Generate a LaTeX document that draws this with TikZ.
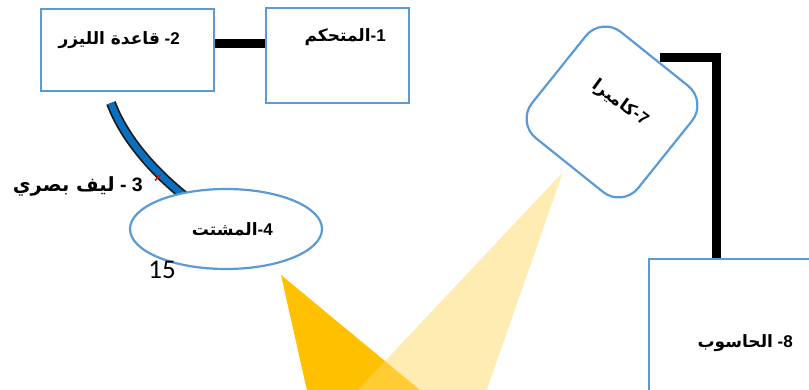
\documentclass[tikz,border=0pt]{standalone}
\usepackage{fontspec}
\setmainfont{Liberation Sans}
\newfontfamily\arfont[Script=Arabic]{DejaVu Sans}
\newfontfamily\calfont{Carlito}
\TeXXeTstate=1
\usetikzlibrary{shapes.geometric}
\definecolor{boxblue}{HTML}{5B9BD5}
\definecolor{ydark}{HTML}{FFC000}
\definecolor{ylight}{HTML}{FFD966}
\definecolor{fibblue}{HTML}{0A6FBF}
\definecolor{fibdark}{HTML}{1A1A1A}
\newcommand\artxt[1]{{\arfont\beginR #1\endR}}
\begin{document}
\begin{tikzpicture}[x=1pt,y=-1pt,
  box/.style={draw=boxblue, line width=2.2pt, fill=white, inner sep=0pt},
  lbl/.style={inner sep=0pt, font=\bfseries\fontsize{17}{20}\selectfont},
  conn/.style={line width=9pt, draw=black}]
\useasboundingbox (0,0) rectangle (809,390);
\clip (0,0) rectangle (809,390);
% light beams
\fill[ydark] (281,275) -- (308,395) -- (426,395) -- cycle;
\fill[ylight, fill opacity=0.5] (563,172) -- (353,395) -- (485,395) -- cycle;
% optical fibre
\draw[fibdark, line width=10pt] (111,103) .. controls (123,135) and (150,170) .. (192,202);
\draw[fibblue, line width=6.5pt] (111,103) .. controls (123,135) and (150,170) .. (192,202);
\draw[red, line width=1.6pt] (155,180.5) -- (160.5,175);
% boxes
\node[box, minimum width=173pt, minimum height=82pt] (b2) at (127.5,50) {};
\node[box, minimum width=143pt, minimum height=95pt] (b1) at (337.5,55.5) {};
\draw[conn] ([yshift=6pt]b2.east) -- ([yshift=6pt]b2.east -| b1.west);
\node[lbl, anchor=east] (t2) at (180,40) {\artxt{قاعدة الليزر} -2};
\node[lbl, anchor=east] (t1) at (386,37) {\artxt{المتحكم}-1};
% diffuser
\node[box, ellipse, minimum width=192pt, minimum height=80pt] (n4) at (226,229) {};
\node[lbl, anchor=east] (t4) at (273,229) {\artxt{المشتت}-4};
\node[lbl, anchor=east, font=\bfseries\fontsize{19.5}{22}\selectfont] (t3) at (143,186) {\artxt{ليف بصري} - 3};
\node[inner sep=0pt, font=\calfont\fontsize{27}{30}\selectfont] (n15) at (162,270) {15};
% computer
\node[box, anchor=north west, minimum width=190pt, minimum height=160pt] (c8) at (648,258) {};
\node[lbl, anchor=east] (t8) at (793,343) {\artxt{الحاسوب} -8};
% camera
\coordinate (k7) at (660,58);
\draw[conn] (k7) -| ([xshift=68.5pt]c8.north west);
\node[box, rounded corners=25pt, minimum width=136pt, minimum height=136pt, rotate=-38.7] (c7) at (612,112) {};
\node[lbl, rotate=-36] (t7) at (620,103) {\artxt{كاميرا}-7};
\end{tikzpicture}
\end{document}
